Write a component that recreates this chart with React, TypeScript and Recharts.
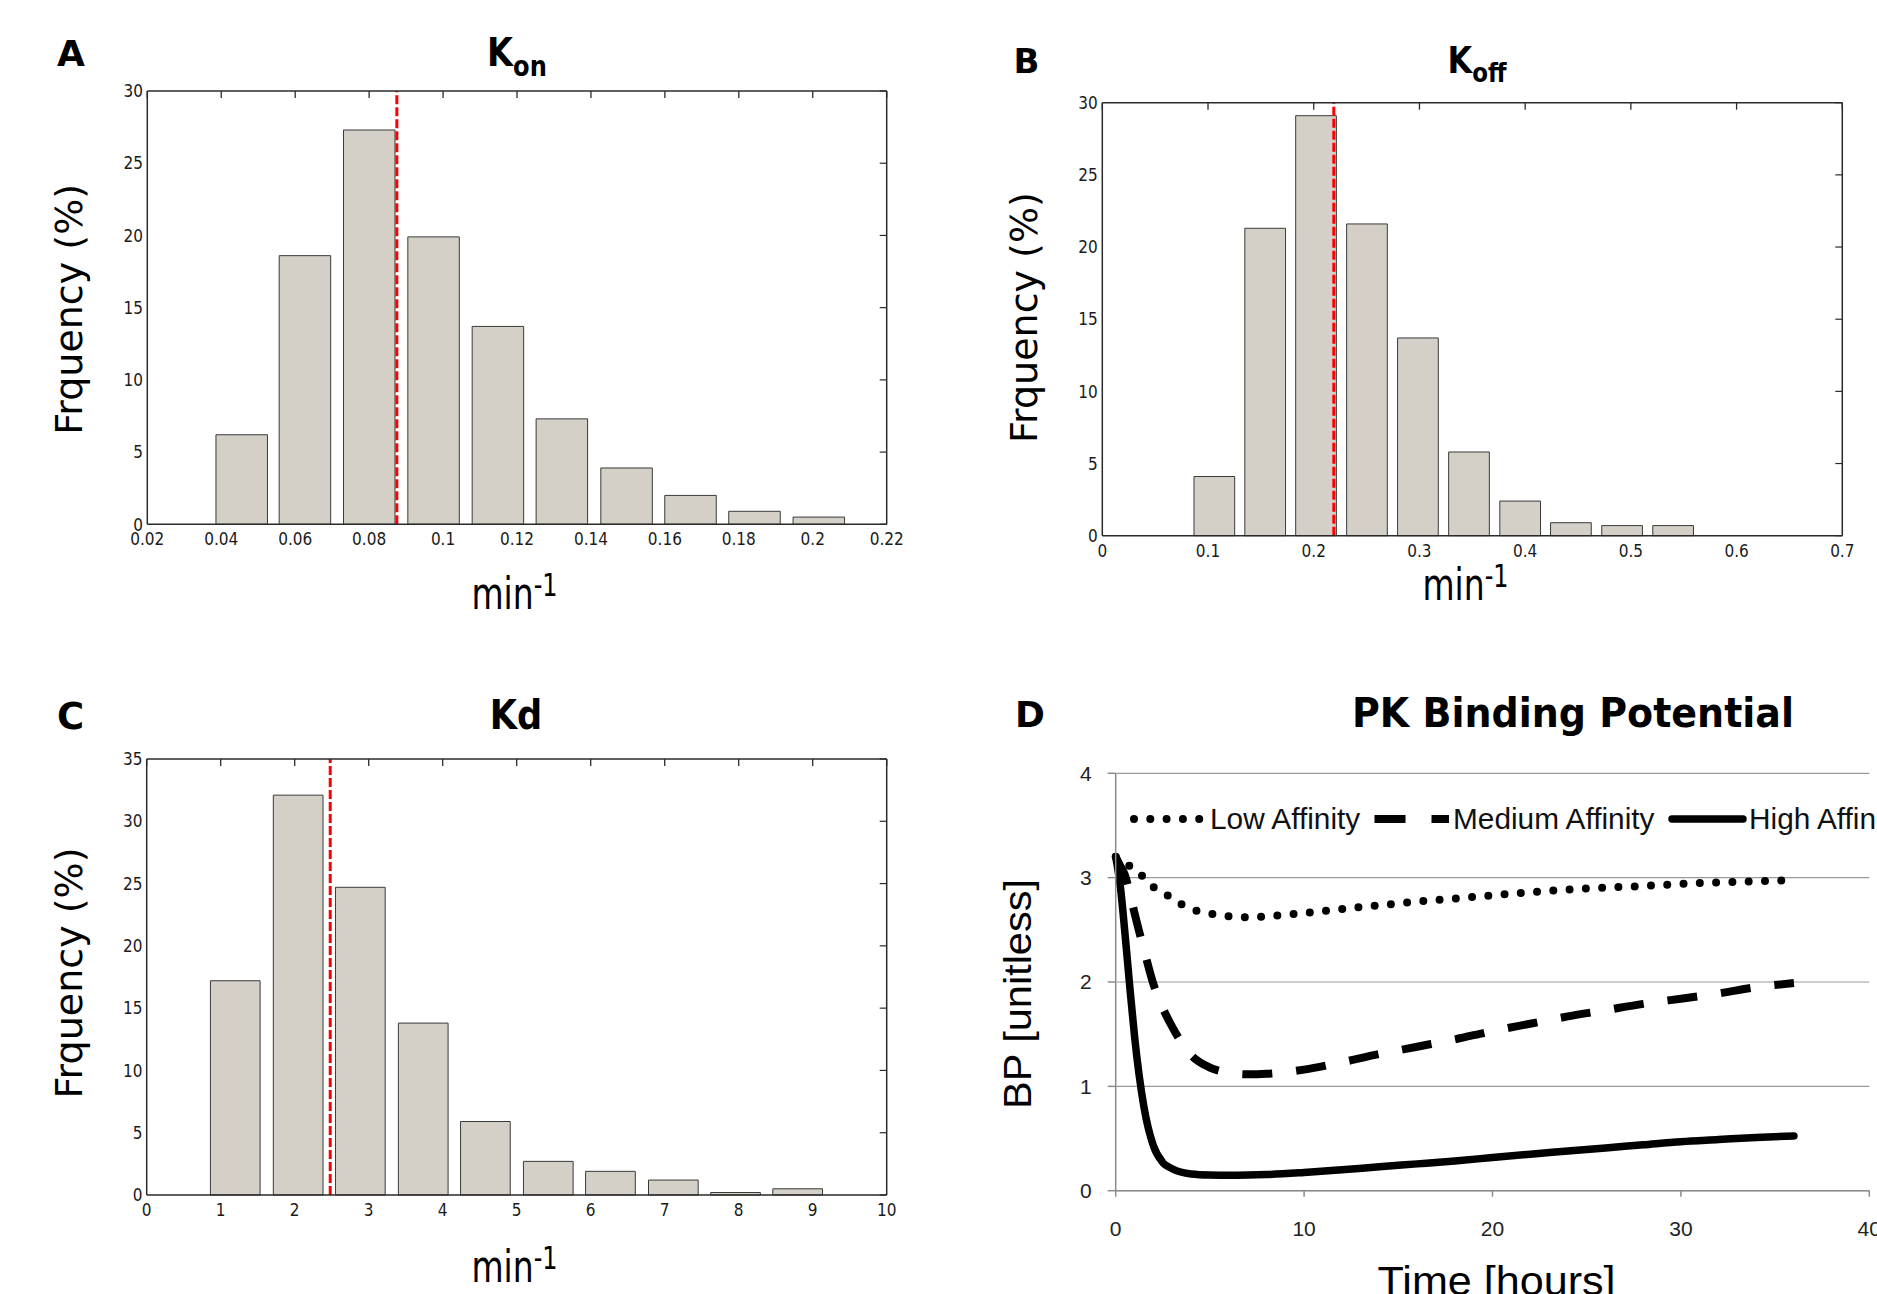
import React from "react";
import {
  BarChart,
  Bar,
  XAxis,
  YAxis,
  ReferenceLine,
  LineChart,
  Line,
  CartesianGrid,
  Legend,
} from "recharts";

// A: K_on histogram (bin centres, % frequency)
const konBins = [0.0455, 0.0626, 0.08, 0.0974, 0.1148, 0.1321, 0.1496, 0.1669, 0.1842, 0.2016];
const konFreq = [6.2, 18.6, 27.3, 19.9, 13.7, 7.3, 3.9, 2.0, 0.9, 0.5];
const konTicks = [0.02, 0.04, 0.06, 0.08, 0.1, 0.12, 0.14, 0.16, 0.18, 0.2, 0.22];
const konMean = 0.0875;

// B: K_off histogram
const koffBins = [0.106, 0.1541, 0.2022, 0.2504, 0.2986, 0.3469, 0.3953, 0.4433, 0.4917, 0.54];
const koffFreq = [4.1, 21.3, 29.1, 21.6, 13.7, 5.8, 2.4, 0.9, 0.7, 0.7];
const koffTicks = [0, 0.1, 0.2, 0.3, 0.4, 0.5, 0.6, 0.7];
const koffMean = 0.219;

// C: Kd histogram
const kdBins = [1.2, 2.05, 2.89, 3.74, 4.58, 5.43, 6.27, 7.12, 7.96, 8.8];
const kdFreq = [17.2, 32.1, 24.7, 13.8, 5.9, 2.7, 1.9, 1.2, 0.2, 0.5];
const kdTicks = [0, 1, 2, 3, 4, 5, 6, 7, 8, 9, 10];
const kdMean = 2.48;

const freqTicks30 = [0, 5, 10, 15, 20, 25, 30];
const freqTicks35 = [0, 5, 10, 15, 20, 25, 30, 35];

// D: binding potential over time
const hours = [0, 0.25, 0.5, 0.75, 1, 1.5, 2, 2.5, 3, 4, 5, 6, 7, 8, 10, 12, 14, 16, 18, 20, 22, 24, 26, 28, 30, 32, 34, 36];
const lowAffinity = [3.2, 3.17, 3.14, 3.11, 3.08, 3.0, 2.91, 2.86, 2.8, 2.7, 2.655, 2.63, 2.62, 2.63, 2.66, 2.7, 2.735, 2.77, 2.8, 2.83, 2.86, 2.885, 2.905, 2.92, 2.94, 2.955, 2.965, 2.975];
const mediumAffinity = [3.2, 3.11, 3.02, 2.85, 2.66, 2.31, 1.98, 1.75, 1.57, 1.3, 1.18, 1.13, 1.115, 1.12, 1.16, 1.23, 1.31, 1.38, 1.45, 1.53, 1.6, 1.67, 1.73, 1.79, 1.84, 1.89, 1.95, 1.99];
const highAffinity = [3.2, 2.91, 2.45, 1.95, 1.48, 0.8, 0.43, 0.27, 0.21, 0.16, 0.15, 0.148, 0.15, 0.155, 0.175, 0.2, 0.23, 0.257, 0.285, 0.318, 0.35, 0.38, 0.41, 0.44, 0.47, 0.49, 0.51, 0.525];
const bpTicks = [0, 1, 2, 3, 4];
const hourTicks = [0, 10, 20, 30, 40];

const FRAME = "#2a2a2a";
const BAR_FILL = "#D4D0C8";
const condensed = "'DejaVu Sans Condensed', 'DejaVu Sans', sans-serif";
const verdana = "'DejaVu Sans', Verdana, sans-serif";
const arial = "'Liberation Sans', Arial, sans-serif";

const fmt = (v: number) => String(parseFloat(v.toFixed(2)));

function Hist(props: any) {
  const { left, top, width, height, margin, bins, freq, xTicks, yTicks, mean, barSize, xDy, yDx } = props;
  const data = bins.map((b: number, i: number) => ({ b, f: freq[i] }));
  const xDomain = [xTicks[0], xTicks[xTicks.length - 1]];
  const yDomain = [0, yTicks[yTicks.length - 1]];
  const axisLine = { stroke: FRAME, strokeWidth: 1.5 };
  // plot height, used to mirror the x ticks inside the top edge of the box
  const plotH = height - margin.top - margin.bottom - 40 - 1;
  return (
    <div style={{ position: "absolute", left, top }}>
      <BarChart width={width} height={height} data={data} margin={margin}>
        <XAxis
          dataKey="b"
          type="number"
          domain={xDomain}
          ticks={xTicks}
          interval={0}
          height={40}
          tickSize={0}
          tickMargin={0}
          axisLine={axisLine}
          tick={(p: any) => (
            <g>
              <line x1={p.x} x2={p.x} y1={p.y - plotH} y2={p.y - plotH + 7} stroke={FRAME} strokeWidth={1.3} />
              <text x={p.x} y={p.y + xDy} textAnchor="middle" fontFamily={condensed} fontSize={17} fill="#1a1a1a">
                {fmt(p.payload.value)}
              </text>
            </g>
          )}
        />
        <XAxis
          xAxisId="top"
          orientation="top"
          type="number"
          domain={xDomain}
          height={1}
          tick={false}
          tickLine={false}
          axisLine={axisLine}
        />
        <YAxis
          type="number"
          domain={yDomain}
          ticks={yTicks}
          interval={0}
          width={60}
          tickSize={0}
          tickMargin={0}
          axisLine={axisLine}
          tick={(p: any) => (
            <text x={p.x - yDx} y={p.y + 6.2} textAnchor="end" fontFamily={condensed} fontSize={17} fill="#1a1a1a">
              {fmt(p.payload.value)}
            </text>
          )}
        />
        <YAxis
          yAxisId="right"
          orientation="right"
          dataKey="f"
          type="number"
          domain={yDomain}
          allowDataOverflow
          ticks={yTicks}
          interval={0}
          width={1}
          tickSize={0}
          tickMargin={0}
          axisLine={axisLine}
          tick={(p: any) => <line x1={p.x} x2={p.x - 7} y1={p.y} y2={p.y} stroke={FRAME} strokeWidth={1.2} />}
        />
        <Bar dataKey="f" fill={BAR_FILL} stroke="#3a3a3a" strokeWidth={1} barSize={barSize} isAnimationActive={false} />
        <ReferenceLine x={mean} stroke="#FF0000" strokeWidth={3} strokeDasharray="9 3" />
      </BarChart>
    </div>
  );
}

const legendMarks: Record<string, any> = {
  "Low Affinity": { x1: 8, x2: 73.3, dash: "0 16.3", w: 8, cap: "round", tx: 84 },
  "Medium Affinity": { x1: 248.5, x2: 323, dash: "31 26", w: 8, cap: "butt", tx: 327 },
  "High Affinity": { x1: 546, x2: 617, dash: undefined, w: 7.5, cap: "round", tx: 623 },
};

function PKLegend({ payload }: any) {
  return (
    <svg width={900} height={40} style={{ display: "block", overflow: "visible" }}>
      {(payload || []).map((e: any) => {
        const m = legendMarks[e.value];
        if (!m) return null;
        return (
          <g key={e.value}>
            <line
              x1={m.x1}
              x2={m.x2}
              y1={20}
              y2={20}
              stroke="#000"
              strokeWidth={m.w}
              strokeDasharray={m.dash}
              strokeLinecap={m.cap}
            />
            <text x={m.tx} y={30} fontFamily={arial} fontSize={29.8} fill="#111">
              {e.value}
            </text>
          </g>
        );
      })}
    </svg>
  );
}

function BindingPanel() {
  const data = hours.map((h, i) => ({
    h,
    low: lowAffinity[i],
    medium: mediumAffinity[i],
    high: highAffinity[i],
  }));
  return (
    <div style={{ position: "absolute", left: 940, top: 640 }}>
      <LineChart width={1100} height={654} data={data} margin={{ top: 133.3, left: 115.7, right: 170.7, bottom: 53.3 }}>
        <CartesianGrid vertical={false} stroke="#9a9a9a" strokeWidth={1.2} />
        <XAxis
          dataKey="h"
          type="number"
          domain={[0, 40]}
          ticks={hourTicks}
          interval={0}
          height={50}
          tickSize={6}
          tickMargin={24}
          axisLine={{ stroke: "#8c8c8c", strokeWidth: 1.5 }}
          tickLine={{ stroke: "#8c8c8c", strokeWidth: 1.5 }}
          tick={{ fontFamily: arial, fontSize: 21, fill: "#222" }}
        />
        <YAxis
          type="number"
          domain={[0, 4]}
          ticks={bpTicks}
          interval={0}
          width={60}
          tickSize={8}
          tickMargin={16}
          axisLine={{ stroke: "#8c8c8c", strokeWidth: 1.5 }}
          tickLine={{ stroke: "#8c8c8c", strokeWidth: 1.5 }}
          tick={{ fontFamily: arial, fontSize: 21, fill: "#222" }}
        />
        <Legend
          layout="horizontal"
          verticalAlign="middle"
          align="center"
          itemSorter={null}
          content={<PKLegend />}
          wrapperStyle={{ left: 186, top: 159.3, width: 900 }}
        />
        <Line
          name="Low Affinity"
          dataKey="low"
          type="monotone"
          stroke="#000"
          strokeWidth={8}
          strokeDasharray="0 16.3"
          strokeLinecap="round"
          dot={false}
          isAnimationActive={false}
        />
        <Line
          name="Medium Affinity"
          dataKey="medium"
          type="monotone"
          stroke="#000"
          strokeWidth={8}
          strokeDasharray="30 24"
          dot={false}
          isAnimationActive={false}
        />
        <Line
          name="High Affinity"
          dataKey="high"
          type="monotone"
          stroke="#000"
          strokeWidth={7.5}
          strokeLinecap="round"
          dot={false}
          isAnimationActive={false}
        />
      </LineChart>
    </div>
  );
}

function Labels() {
  const bold = { fontFamily: verdana, fontWeight: 700, fill: "#000" } as const;
  const title = (cx: number, base: number, size: number, sx: number, main: string, sub?: string, subDy = 10) => (
    <g transform={`translate(${cx}, ${base}) scale(${sx}, 1)`}>
      <text x={0} y={0} textAnchor="middle" fontSize={size} {...bold}>
        {main}
        {sub ? (
          <tspan fontSize={size * 0.72} dy={subDy}>
            {sub}
          </tspan>
        ) : null}
      </text>
    </g>
  );
  const minLabel = (cx: number, base: number) => (
    <g transform={`translate(${cx}, ${base}) scale(0.75, 1)`}>
      <text x={0} y={0} textAnchor="middle" fontFamily={verdana} fontSize={44} fill="#000">
        min
        <tspan fontSize={32} dy={-13}>
          -1
        </tspan>
      </text>
    </g>
  );
  const freqLabel = (bx: number, cy: number) => (
    <text transform={`translate(${bx}, ${cy}) rotate(-90)`} textAnchor="middle" fontFamily={verdana} fontSize={38} fill="#000">
      Frquency (%)
    </text>
  );
  return (
    <svg width={1877} height={1294} style={{ position: "absolute", left: 0, top: 0, pointerEvents: "none" }}>
      {/* A */}
      <text x={57} y={65.6} fontSize={36} {...bold}>A</text>
      {title(517, 65.6, 39, 0.86, "K", "on", 10)}
      {freqLabel(81.7, 309.4)}
      {minLabel(514.5, 608.6)}
      {/* B */}
      <text x={1013.5} y={73} fontSize={34} {...bold}>B</text>
      {title(1477, 73, 37, 0.86, "K", "off", 9)}
      {freqLabel(1036.7, 317.6)}
      {minLabel(1465.5, 600)}
      {/* C */}
      <text x={57} y={729} fontSize={37} {...bold}>C</text>
      {title(516, 729, 40, 0.88, "Kd")}
      {freqLabel(81.7, 973)}
      {minLabel(514.5, 1282)}
      {/* D */}
      <text x={1015} y={727} fontSize={36} {...bold}>D</text>
      {title(1573, 727, 40, 0.95, "PK Binding Potential")}
      <text
        transform="translate(1030.5, 994) rotate(-90)"
        textAnchor="middle"
        fontFamily={arial}
        fontSize={38}
        textLength={230}
        lengthAdjust="spacingAndGlyphs"
        fill="#000"
      >
        BP [unitless]
      </text>
      <text
        x={1496.6}
        y={1295}
        textAnchor="middle"
        fontFamily={arial}
        fontSize={40}
        textLength={238}
        lengthAdjust="spacingAndGlyphs"
        fill="#000"
      >
        Time [hours]
      </text>
    </svg>
  );
}

export default function App() {
  return (
    <div
      style={{
        position: "absolute",
        left: 0,
        top: 0,
        width: 1877,
        height: 1294,
        overflow: "hidden",
        background: "#fff",
      }}
    >
      <Hist
        left={0}
        top={0}
        width={940}
        height={640}
        margin={{ top: 90, left: 87.3, right: 52.3, bottom: 75.7 }}
        bins={konBins}
        freq={konFreq}
        xTicks={konTicks}
        yTicks={freqTicks30}
        mean={konMean}
        barSize={51.5}
        xDy={20.7}
        yDx={4.3}
      />
      <Hist
        left={940}
        top={0}
        width={937}
        height={640}
        margin={{ top: 101.7, left: 102.3, right: 33.7, bottom: 64.3 }}
        bins={koffBins}
        freq={koffFreq}
        xTicks={koffTicks}
        yTicks={freqTicks30}
        mean={koffMean}
        barSize={40.7}
        xDy={21}
        yDx={4.6}
      />
      <Hist
        left={0}
        top={640}
        width={940}
        height={654}
        margin={{ top: 118, left: 86.7, right: 52.3, bottom: 59 }}
        bins={kdBins}
        freq={kdFreq}
        xTicks={kdTicks}
        yTicks={freqTicks35}
        mean={kdMean}
        barSize={49.7}
        xDy={21}
        yDx={4.3}
      />
      <BindingPanel />
      <Labels />
    </div>
  );
}
